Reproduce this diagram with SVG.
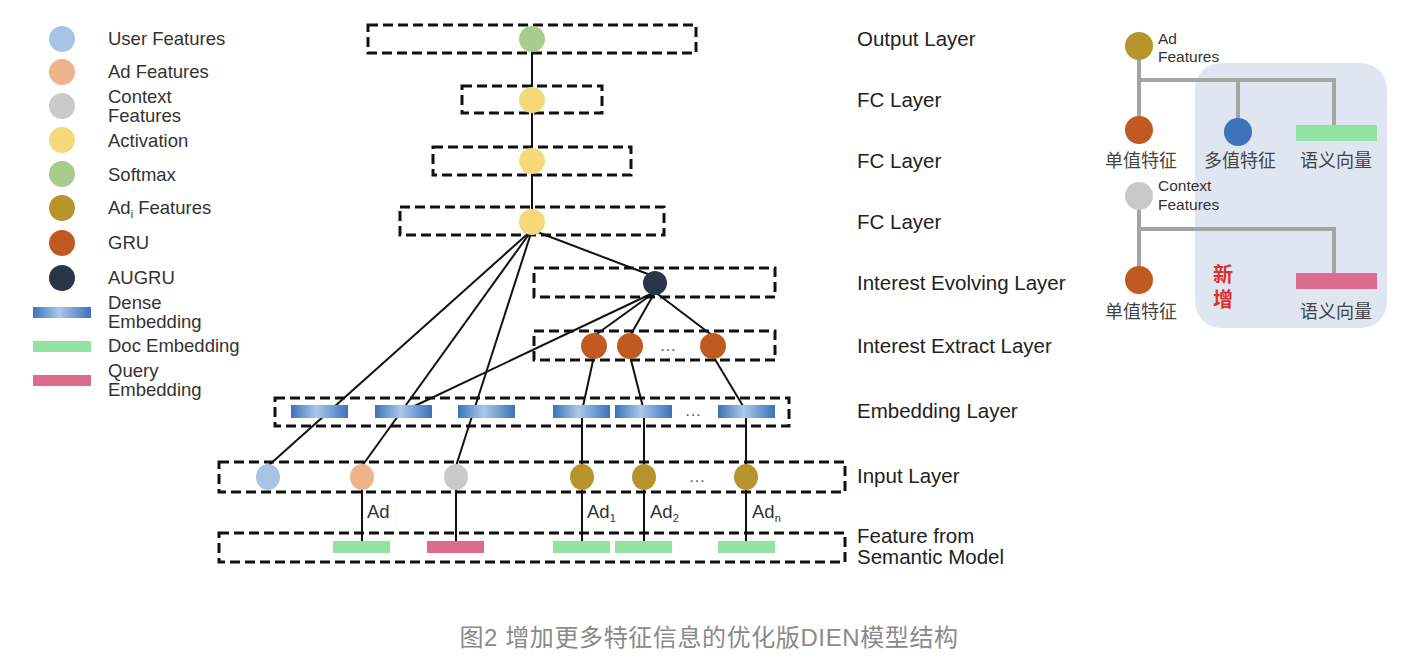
<svg xmlns="http://www.w3.org/2000/svg" width="1422" height="662" viewBox="0 0 1422 662">
<style>
text{font-family:"Liberation Sans","Noto Sans CJK SC",sans-serif;fill:#333}
.lg{font-size:18.5px}
.ly{font-size:20.5px;fill:#222}
.sm{font-size:15.5px}
.cj{font-size:18px;fill:#444}
.box{fill:none;stroke:#111;stroke-width:3;stroke-dasharray:10 5}
.ln{stroke:#111;stroke-width:2;fill:none}
.gl{stroke:#a5a5a5;stroke-width:4;fill:none}
.user{fill:#a7c4e4}.ad{fill:#eeb48b}.ctx{fill:#c9c9c9}.act{fill:#f5d878}.soft{fill:#a8cc8c}.adi{fill:#b8952c}.gru{fill:#c05a22}.aug{fill:#2c3548}
.dense{fill:url(#dg)}.doc{fill:#90e3a0}.qry{fill:#dc6b8d}
.dots{font-size:17px;fill:#555}
</style>
<defs>
<linearGradient id="dg" x1="0" y1="0" x2="1" y2="0">
<stop offset="0" stop-color="#3c72b8"/><stop offset="0.45" stop-color="#a8c8ec"/><stop offset="1" stop-color="#3c72b8"/>
</linearGradient>
</defs>
<rect width="1422" height="662" fill="#fff"/>

<g id="legend">
<circle class="user" cx="62" cy="39" r="13"/><text class="lg" x="108" y="45">User Features</text>
<circle class="ad" cx="62" cy="72" r="13"/><text class="lg" x="108" y="78">Ad Features</text>
<circle class="ctx" cx="62" cy="106" r="13"/><text class="lg" x="108" y="103">Context</text><text class="lg" x="108" y="122">Features</text>
<circle class="act" cx="62" cy="140" r="13"/><text class="lg" x="108" y="147">Activation</text>
<circle class="soft" cx="62" cy="174" r="13"/><text class="lg" x="108" y="181">Softmax</text>
<circle class="adi" cx="62" cy="208" r="13"/><text class="lg" x="108" y="214">Ad<tspan font-size="11" dy="4">i</tspan><tspan dy="-4"> Features</tspan></text>
<circle class="gru" cx="62" cy="243" r="13"/><text class="lg" x="108" y="249">GRU</text>
<circle class="aug" cx="62" cy="278" r="13"/><text class="lg" x="108" y="284">AUGRU</text>
<rect class="dense" x="33" y="307" width="58" height="11"/><text class="lg" x="108" y="309">Dense</text><text class="lg" x="108" y="328">Embedding</text>
<rect class="doc" x="33" y="341" width="58" height="11"/><text class="lg" x="108" y="352">Doc Embedding</text>
<rect class="qry" x="33" y="375" width="58" height="11"/><text class="lg" x="108" y="377">Query</text><text class="lg" x="108" y="396">Embedding</text>
</g>

<g id="connectors">
<line class="ln" x1="532" y1="39" x2="532" y2="222"/>
<line class="ln" x1="532" y1="230" x2="268" y2="466"/>
<line class="ln" x1="532" y1="230" x2="362" y2="466"/>
<line class="ln" x1="532" y1="230" x2="456" y2="466"/>
<line class="ln" x1="532" y1="230" x2="653" y2="276"/>
<line class="ln" x1="655" y1="292" x2="404" y2="411"/>
<line class="ln" x1="655" y1="292" x2="594" y2="336"/>
<line class="ln" x1="655" y1="292" x2="630" y2="336"/>
<line class="ln" x1="655" y1="292" x2="713" y2="336"/>
<line class="ln" x1="594" y1="356" x2="582" y2="411"/>
<line class="ln" x1="630" y1="356" x2="644" y2="411"/>
<line class="ln" x1="713" y1="356" x2="746" y2="411"/>
<line class="ln" x1="582" y1="411" x2="582" y2="547"/>
<line class="ln" x1="644" y1="411" x2="644" y2="547"/>
<line class="ln" x1="746" y1="411" x2="746" y2="547"/>
<line class="ln" x1="362" y1="477" x2="362" y2="547"/>
<line class="ln" x1="456" y1="477" x2="456" y2="547"/>
</g>

<g id="output-layer">
<rect class="box" x="368" y="25" width="328" height="28"/>
<circle class="soft" cx="532" cy="39" r="13"/>
<text class="ly" x="857" y="46">Output Layer</text>
</g>
<g id="fc-layer-1">
<rect class="box" x="462" y="86" width="140" height="27"/>
<circle class="act" cx="532" cy="100" r="13"/>
<text class="ly" x="857" y="107">FC Layer</text>
</g>
<g id="fc-layer-2">
<rect class="box" x="433" y="147" width="198" height="28"/>
<circle class="act" cx="532" cy="161" r="13"/>
<text class="ly" x="857" y="168">FC Layer</text>
</g>
<g id="fc-layer-3">
<rect class="box" x="400" y="207" width="264" height="28"/>
<circle class="act" cx="532" cy="222" r="13"/>
<text class="ly" x="857" y="229">FC Layer</text>
</g>
<g id="interest-evolving-layer">
<rect class="box" x="534" y="268" width="241" height="29"/>
<circle class="aug" cx="655" cy="283" r="12"/>
<text class="ly" x="857" y="290">Interest Evolving Layer</text>
</g>
<g id="interest-extract-layer">
<rect class="box" x="534" y="331" width="241" height="29"/>
<circle class="gru" cx="594" cy="346" r="13"/>
<circle class="gru" cx="630" cy="346" r="13"/>
<circle class="gru" cx="713" cy="346" r="13"/>
<text class="dots" x="668" y="351" text-anchor="middle">…</text>
<text class="ly" x="857" y="353">Interest Extract Layer</text>
</g>
<g id="embedding-layer">
<rect class="box" x="275" y="398" width="514" height="28"/>
<rect class="dense" x="291" y="405" width="57" height="13"/>
<rect class="dense" x="375" y="405" width="57" height="13"/>
<rect class="dense" x="458" y="405" width="57" height="13"/>
<rect class="dense" x="553" y="405" width="57" height="13"/>
<rect class="dense" x="615" y="405" width="57" height="13"/>
<rect class="dense" x="718" y="405" width="57" height="13"/>
<text class="dots" x="693" y="416" text-anchor="middle">…</text>
<text class="ly" x="857" y="418">Embedding Layer</text>
</g>
<g id="input-layer">
<rect class="box" x="219" y="462" width="626" height="30"/>
<ellipse class="user" cx="268" cy="477" rx="12" ry="13"/>
<ellipse class="ad" cx="362" cy="477" rx="12" ry="13"/>
<ellipse class="ctx" cx="456" cy="477" rx="12" ry="13"/>
<ellipse class="adi" cx="582" cy="477" rx="12" ry="13"/>
<ellipse class="adi" cx="644" cy="477" rx="12" ry="13"/>
<ellipse class="adi" cx="746" cy="477" rx="12" ry="13"/>
<text class="dots" x="697" y="482" text-anchor="middle">…</text>
<text class="ly" x="857" y="483">Input Layer</text>
<text class="lg" x="367" y="518">Ad</text>
<text class="lg" x="587" y="518">Ad<tspan font-size="11" dy="4">1</tspan></text>
<text class="lg" x="650" y="518">Ad<tspan font-size="11" dy="4">2</tspan></text>
<text class="lg" x="752" y="518">Ad<tspan font-size="11" dy="4">n</tspan></text>
</g>
<g id="semantic-layer">
<rect class="box" x="219" y="533" width="626" height="29"/>
<rect class="doc" x="333" y="541" width="57" height="12"/>
<rect class="qry" x="427" y="541" width="57" height="12"/>
<rect class="doc" x="553" y="541" width="57" height="12"/>
<rect class="doc" x="615" y="541" width="57" height="12"/>
<rect class="doc" x="718" y="541" width="57" height="12"/>
<text class="ly" x="857" y="543">Feature from</text>
<text class="ly" x="857" y="564">Semantic Model</text>
</g>

<g id="side-panel">
<rect x="1195" y="63" width="192" height="265" rx="26" fill="#dfe6f2"/>
<path class="gl" d="M1139 46V130M1139 80H1334V126M1238 80V132"/>
<path class="gl" d="M1139 196V280M1139 229H1334V274"/>
<circle class="adi" cx="1139" cy="46" r="14"/>
<text class="sm" x="1158" y="44">Ad</text><text class="sm" x="1158" y="62">Features</text>
<circle class="gru" cx="1139" cy="130" r="14"/>
<circle cx="1238" cy="132" r="14" fill="#3e73b8"/>
<rect class="doc" x="1296" y="125" width="81" height="16"/>
<text class="cj" x="1141" y="167" text-anchor="middle">单值特征</text>
<text class="cj" x="1240" y="167" text-anchor="middle">多值特征</text>
<text class="cj" x="1336" y="167" text-anchor="middle">语义向量</text>
<circle class="ctx" cx="1139" cy="196" r="14"/>
<text class="sm" x="1158" y="191">Context</text><text class="sm" x="1158" y="210">Features</text>
<circle class="gru" cx="1139" cy="280" r="14"/>
<rect class="qry" x="1296" y="273" width="81" height="16"/>
<text class="cj" x="1141" y="318" text-anchor="middle">单值特征</text>
<text class="cj" x="1336" y="318" text-anchor="middle">语义向量</text>
<text x="1223" y="282" text-anchor="middle" font-size="20" font-weight="bold" style="fill:#d9302c">新</text>
<text x="1223" y="307" text-anchor="middle" font-size="20" font-weight="bold" style="fill:#d9302c">增</text>
</g>

<text x="709" y="646" text-anchor="middle" font-size="24" letter-spacing="0.6" style="fill:#8a8a8a">图2 增加更多特征信息的优化版DIEN模型结构</text>
</svg>
